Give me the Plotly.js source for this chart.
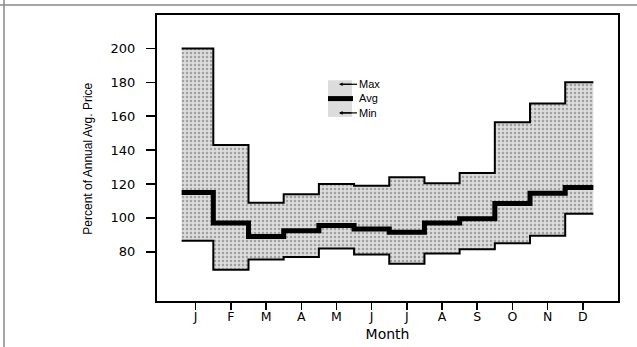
<!DOCTYPE html>
<html>
<head>
<meta charset="utf-8">
<script src="https://cdn.plot.ly/plotly-3.0.1.min.js"></script>
<style>html,body{margin:0;padding:0;background:#fff;}#chart{width:637px;height:347px;}</style>
</head>
<body>
<div id="chart"></div>
<script>
// ---- data ----
const months = [1, 2, 3, 4, 5, 6, 7, 8, 9, 10, 11, 12];
const monthLabels = ["J", "F", "M", "A", "M", "J", "J", "A", "S", "O", "N", "D"];
const maxVals = [200, 143, 109, 114, 120, 119, 124, 120.5, 126.5, 156.5, 167.5, 180];
const avgVals = [115, 97, 89, 92.5, 95.5, 93.5, 91.5, 97, 99.5, 108.5, 114.5, 118];
const minVals = [86.5, 69.5, 75.5, 77, 82, 78.5, 73, 79, 81.5, 85, 89.5, 102.5];
const yTicks = [80, 100, 120, 140, 160, 180, 200];
const legendNames = ["Max", "Avg", "Min"];

// step edges: each month's value spans half-way to its neighbours
const startX = months[0] - 0.4, endX = months[months.length - 1] + 0.3;
const edgeX = [startX].concat(months.slice(1).map(m => m - 0.5), [endX]);
const stepY = arr => arr.concat([arr[arr.length - 1]]);

const traces = [
  {x: edgeX, y: stepY(maxVals), mode: 'lines', line: {shape: 'hv', color: '#000', width: 2}, showlegend: false, hoverinfo: 'skip'},
  {x: edgeX, y: stepY(minVals), mode: 'lines', line: {shape: 'hv', color: '#000', width: 2}, fill: 'tonexty',
   fillcolor: '#d9d9d9',
   fillpattern: {shape: '.', fgcolor: '#a0a0a0', bgcolor: '#dddddd', size: 4, solidity: 0.3},
   showlegend: false, hoverinfo: 'skip'},
  {x: edgeX, y: stepY(avgVals), mode: 'lines', line: {shape: 'hv', color: '#000', width: 5}, showlegend: false, hoverinfo: 'skip'}
];

// geometry helpers for paper coordinates
const L = 157, T = 15, W = 461, H = 285.7;
const px = v => (v - L) / W;
const py = v => (T + H - v) / H;

const fs = 11, gap = fs * 1.3, midY = 98.5;
const rowY = [midY - gap, midY, midY + gap];

const shapes = [
  // legend stipple block
  {type: 'rect', xref: 'paper', yref: 'paper', x0: px(328), x1: px(352), y0: py(rowY[2] + 4), y1: py(rowY[0] - 4), fillcolor: '#dcdcdc', line: {width: 0}},
  {type: 'line', xref: 'paper', yref: 'paper', x0: px(341), x1: px(357), y0: py(rowY[0]), y1: py(rowY[0]), line: {color: '#000', width: 1.2}},
  {type: 'line', xref: 'paper', yref: 'paper', x0: px(328), x1: px(353), y0: py(rowY[1]), y1: py(rowY[1]), line: {color: '#000', width: 5}},
  {type: 'line', xref: 'paper', yref: 'paper', x0: px(341), x1: px(357), y0: py(rowY[2]), y1: py(rowY[2]), line: {color: '#000', width: 1.2}},
  // outer page frame
  {type: 'line', xref: 'paper', yref: 'paper', x0: px(0), x1: px(637), y0: py(5), y1: py(5), line: {color: '#888', width: 1.5}},
  {type: 'line', xref: 'paper', yref: 'paper', x0: px(4), x1: px(4), y0: py(0), y1: py(347), line: {color: '#888', width: 1.5}}
];

const annotations = [
  {xref: 'paper', yref: 'paper', x: px(358), y: py(midY), text: legendNames.join('<br>'), showarrow: false,
   xanchor: 'left', yanchor: 'middle', align: 'left', borderpad: 0,
   font: {family: 'Liberation Sans, Arial, sans-serif', size: fs, color: '#000'}},
  // arrow heads on Max / Min legend lines
  {xref: 'paper', yref: 'paper', x: px(339), y: py(rowY[0]), ax: 14, ay: 0, text: '', showarrow: true, arrowhead: 2, arrowsize: 0.6, arrowwidth: 1.2, arrowcolor: '#000'},
  {xref: 'paper', yref: 'paper', x: px(339), y: py(rowY[2]), ax: 14, ay: 0, text: '', showarrow: true, arrowhead: 2, arrowsize: 0.6, arrowwidth: 1.2, arrowcolor: '#000'},
  // y axis title
  {xref: 'paper', yref: 'paper', x: px(88), y: py(158.5), text: 'Percent of Annual Avg. Price', textangle: -90, showarrow: false,
   xanchor: 'center', yanchor: 'middle',
   font: {family: 'Liberation Sans, Arial, sans-serif', size: 12, color: '#000'}}
];

const layout = {
  width: 637, height: 347,
  margin: {l: L, r: 637 - L - W, t: T, b: 347 - T - H},
  paper_bgcolor: '#fff', plot_bgcolor: '#fff',
  showlegend: false,
  font: {family: 'DejaVu Sans, sans-serif', size: 12, color: '#000'},
  xaxis: {
    range: [-0.1, 13.0], tickmode: 'array', tickvals: months, ticktext: monthLabels,
    ticks: 'outside', ticklen: 7, tickwidth: 1.5, tickcolor: '#000',
    showline: true, linewidth: 2, linecolor: '#000', mirror: true,
    showgrid: false, zeroline: false, ticklabelstandoff: -4,
    tickfont: {family: 'DejaVu Sans, sans-serif', size: 12.5, color: '#000'},
    title: {text: 'Month', font: {family: 'DejaVu Sans, sans-serif', size: 14, color: '#000'}, standoff: 6}
  },
  yaxis: {
    range: [51, 219.7], tickmode: 'array', tickvals: yTicks,
    ticks: 'outside', ticklen: 9, tickwidth: 1.5, tickcolor: '#000',
    showline: true, linewidth: 2, linecolor: '#000', mirror: true,
    showgrid: false, zeroline: false, ticklabelstandoff: 8,
    tickfont: {family: 'DejaVu Sans, sans-serif', size: 13, color: '#000'}
  },
  shapes: shapes,
  annotations: annotations
};

Plotly.newPlot('chart', traces, layout, {staticPlot: true, displayModeBar: false});
</script>
</body>
</html>
